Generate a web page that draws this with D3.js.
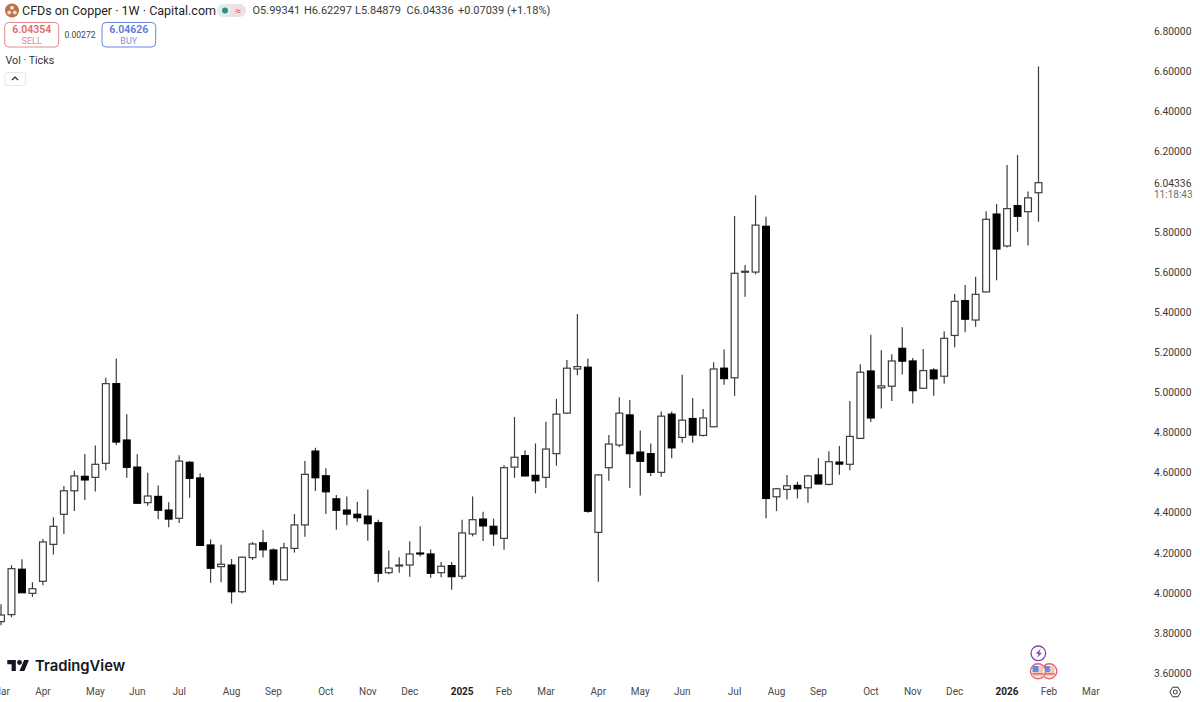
<!DOCTYPE html>
<html>
<head>
<meta charset="utf-8">
<script src="https://cdn.jsdelivr.net/npm/d3@7"></script>
<style>
  html, body { margin: 0; padding: 0; background: #fff; overflow: hidden; }
  svg { display: block; font-family: Roboto, Inter, sans-serif; }
</style>
</head>
<body>
<svg id="chart" width="1200" height="702"></svg>
<script>
// weekly candles, first one is the week of 2024-03-04
const firstWeek = '2024-03-04';

const opens = [3.856,3.891,4.117,3.997,4.057,4.241,4.391,4.508,4.580,4.575,
  4.645,5.042,4.761,4.626,4.449,4.480,4.412,4.371,4.650,4.572,
  4.238,4.130,4.138,4.005,4.175,4.249,4.213,4.064,4.221,4.338,
  4.706,4.583,4.468,4.412,4.391,4.382,4.349,4.100,4.135,4.138,
  4.198,4.193,4.100,4.135,4.082,4.293,4.367,4.331,4.271,4.626,
  4.683,4.585,4.575,4.693,4.895,5.115,5.124,4.301,4.623,4.736,
  4.886,4.701,4.693,4.600,4.890,4.774,4.868,4.784,4.827,5.119,
  5.071,5.597,5.598,5.826,4.478,4.515,4.535,4.523,4.587,4.540,
  4.651,4.640,4.769,5.105,5.021,5.029,5.218,5.155,5.019,5.110,
  5.079,5.282,5.456,5.359,5.499,5.887,5.728,5.929,5.899,5.99341];

const highs = [3.943,4.137,4.167,4.052,4.268,4.376,4.532,4.608,4.691,4.734,
  5.071,5.167,4.890,4.690,4.598,4.535,4.451,4.685,4.656,4.595,
  4.266,4.239,4.168,4.180,4.253,4.313,4.221,4.249,4.392,4.656,
  4.722,4.620,4.487,4.480,4.454,4.515,4.364,4.210,4.177,4.256,
  4.331,4.216,4.153,4.153,4.364,4.480,4.404,4.369,4.635,4.876,
  4.710,4.744,4.852,4.966,5.160,5.389,5.167,4.591,4.786,4.974,
  4.961,4.809,4.744,4.903,4.903,5.086,4.971,4.915,5.149,5.212,
  5.877,5.633,5.980,5.874,4.522,4.587,4.553,4.588,4.671,4.705,
  4.731,4.955,5.139,5.286,5.209,5.189,5.323,5.170,5.215,5.119,
  5.303,5.489,5.534,5.575,5.901,5.937,6.131,6.181,6.000,6.62297];

const lows = [3.838,3.878,4.000,3.979,4.037,4.190,4.293,4.407,4.462,4.505,
  4.610,4.736,4.573,4.446,4.434,4.366,4.326,4.347,4.473,4.236,
  4.049,4.052,3.946,3.997,4.163,4.175,4.040,4.064,4.200,4.279,
  4.507,4.392,4.314,4.336,4.354,4.259,4.052,4.092,4.100,4.080,
  4.180,4.075,4.077,4.015,4.067,4.281,4.258,4.233,4.214,4.573,
  4.582,4.495,4.522,4.633,4.891,5.084,4.399,4.055,4.558,4.726,
  4.522,4.485,4.582,4.578,4.670,4.747,4.747,4.779,4.827,5.037,
  4.981,5.475,5.587,4.371,4.407,4.465,4.470,4.449,4.542,4.535,
  4.588,4.610,4.769,4.851,4.918,4.955,5.087,4.943,5.019,4.982,
  5.041,5.223,5.298,5.325,5.499,5.557,5.721,5.799,5.731,5.84879];

const closes = [3.889,4.120,4.000,4.020,4.253,4.331,4.508,4.582,4.562,4.640,
  5.042,4.751,4.625,4.446,4.482,4.411,4.367,4.656,4.570,4.236,
  4.122,4.142,4.005,4.177,4.243,4.214,4.064,4.224,4.338,4.590,
  4.573,4.503,4.411,4.392,4.374,4.344,4.097,4.123,4.138,4.193,
  4.193,4.097,4.132,4.080,4.298,4.364,4.333,4.293,4.623,4.675,
  4.582,4.558,4.716,4.890,5.119,5.127,4.406,4.587,4.741,4.895,
  4.693,4.655,4.600,4.880,4.722,4.860,4.786,4.871,5.115,5.067,
  5.592,5.602,5.832,4.470,4.518,4.533,4.518,4.582,4.542,4.653,
  4.641,4.779,5.099,4.871,5.031,5.155,5.154,5.007,5.107,5.066,
  5.268,5.452,5.363,5.487,5.861,5.713,5.914,5.876,5.968,6.04336];

const priceTicks = [3.6,3.8,4.0,4.2,4.4,4.6,4.8,5.0,5.2,5.4,5.6,5.8,6.2,6.4,6.6,6.8];
const lastPrice = 6.04336;
const countdown = '11:18:43';

const dateTicks = ['2024-03-04','2024-04-01','2024-05-06','2024-06-03','2024-07-01','2024-08-05',
  '2024-09-02','2024-10-07','2024-11-04','2024-12-02','2025-01-06','2025-02-03','2025-03-03',
  '2025-04-07','2025-05-05','2025-06-02','2025-07-07','2025-08-04','2025-09-01','2025-10-06',
  '2025-11-03','2025-12-01','2026-01-05','2026-02-02','2026-03-02'];
const dateLabels = ['Mar','Apr','May','Jun','Jul','Aug','Sep','Oct','Nov','Dec','2025','Feb','Mar',
  'Apr','May','Jun','Jul','Aug','Sep','Oct','Nov','Dec','2026','Feb','Mar'];
const boldLabels = ['2025','2026'];

const ohlcParts = ['O5.99341','H6.62297','L5.84879','C6.04336','+0.07039 (+1.18%)'];

const svg = d3.select('#chart');
const parseDay = d3.utcParse('%Y-%m-%d');
const week = parseDay(firstWeek);

const candles = opens.map((o, i) => ({
  date: d3.utcDay.offset(week, i * 7), o, h: highs[i], l: lows[i], c: closes[i]
}));

const x = d3.scaleUtc()
  .domain([candles[0].date, candles[candles.length - 1].date])
  .range([1, 1038.5]);
const y = d3.scaleLinear().domain([3.6, 6.6]).range([673, 71]);
const bodyWidth = 8;

// candles
const g = svg.append('g').selectAll('.candle').data(candles).enter()
  .append('g').attr('class', 'candle');

g.append('line')
  .attr('x1', d => x(d.date)).attr('x2', d => x(d.date))
  .attr('y1', d => y(d.h)).attr('y2', d => y(d.l))
  .attr('stroke', '#3c3c3c').attr('stroke-width', 1.2);

g.append('rect')
  .attr('x', d => x(d.date) - bodyWidth / 2 + 0.6)
  .attr('width', bodyWidth - 1.2)
  .attr('y', d => y(Math.max(d.o, d.c)))
  .attr('height', d => Math.max(1, Math.abs(y(d.o) - y(d.c))))
  .attr('fill', d => d.c >= d.o ? '#fff' : '#000')
  .attr('stroke', d => d.c >= d.o ? '#3c3c3c' : '#000')
  .attr('stroke-width', 1.2);

// price axis
const yAxis = d3.axisRight(y)
  .tickValues(priceTicks)
  .tickSize(0).tickPadding(0).offset(0)
  .tickFormat(d3.format('.5f'));
svg.append('g').attr('transform', 'translate(1154,0.7)').call(yAxis)
  .call(a => a.select('.domain').remove())
  .call(a => a.selectAll('text').attr('fill', '#3a3a3a').style('font-size', '10.3px').style('font-family', 'Roboto, sans-serif'));

svg.append('text').attr('x', 1154).attr('y', 187.4)
  .attr('fill', '#3a3a3a').attr('font-size', 10.3).text(d3.format('.5f')(lastPrice));
svg.append('text').attr('x', 1154).attr('y', 198)
  .attr('fill', '#6f6f6f').attr('font-size', 10).text(countdown);

// time axis
const tickDates = dateTicks.map(parseDay);
const xAxis = d3.axisBottom(x)
  .tickValues(tickDates)
  .tickSize(0).tickPadding(0).offset(0)
  .tickFormat((d, i) => dateLabels[i]);
svg.append('g').attr('transform', 'translate(0,688)').call(xAxis)
  .call(a => a.select('.domain').remove())
  .call(a => a.selectAll('text')
    .style('font-size', '10px').style('font-family', 'Roboto, sans-serif')
    .style('font-weight', (d, i) => boldLabels.includes(dateLabels[i]) ? 700 : 400)
    .attr('fill', (d, i) => boldLabels.includes(dateLabels[i]) ? '#222' : '#4a4a4a'));

// header
const head = svg.append('g');
head.append('circle').attr('cx', 12).attr('cy', 10.5).attr('r', 7).attr('fill', '#b8714a');
[[12, 7.8], [9.2, 12.6], [14.8, 12.6]].forEach(p => {
  head.append('circle').attr('cx', p[0]).attr('cy', p[1]).attr('r', 2).attr('fill', '#f4d9c6');
});
head.append('text').attr('x', 22).attr('y', 15).attr('font-size', 12.5).attr('fill', '#1f1f1f')
  .text('CFDs on Copper · 1W · Capital.com');

head.append('rect').attr('x', 217).attr('y', 4).attr('width', 29).attr('height', 13).attr('rx', 6.5).attr('fill', '#f0dfe2');
head.append('rect').attr('x', 217).attr('y', 4).attr('width', 14).attr('height', 13).attr('rx', 6.5).attr('fill', '#dcefe9');
head.append('circle').attr('cx', 225).attr('cy', 10.5).attr('r', 3).attr('fill', '#2e9180');
head.append('text').attr('x', 238).attr('y', 14).attr('text-anchor', 'middle').attr('font-size', 10).attr('fill', '#d8506a').text('≈');

const ohlcX = [252.5, 304, 355, 406.5, 458];
ohlcParts.forEach((t, i) => {
  head.append('text').attr('x', ohlcX[i]).attr('y', 14).attr('font-size', 11).attr('fill', '#3a3a3a').text(t);
});

// sell / buy buttons
head.append('rect').attr('x', 4.7).attr('y', 22.5).attr('width', 54).attr('height', 24.5).attr('rx', 4)
  .attr('fill', '#fff').attr('stroke', '#e08a8a');
head.append('text').attr('x', 31.7).attr('y', 33).attr('text-anchor', 'middle').attr('font-size', 10.5).attr('font-weight', 600).attr('fill', '#db6b6b').text('6.04354');
head.append('text').attr('x', 31.7).attr('y', 43.5).attr('text-anchor', 'middle').attr('font-size', 9).attr('fill', '#e08a8a').text('SELL');
head.append('text').attr('x', 80).attr('y', 38).attr('text-anchor', 'middle').attr('font-size', 8.5).attr('fill', '#444').text('0.00272');
head.append('rect').attr('x', 102).attr('y', 22.5).attr('width', 53.7).attr('height', 24.5).attr('rx', 4)
  .attr('fill', '#fff').attr('stroke', '#6a85e0');
head.append('text').attr('x', 128.8).attr('y', 33).attr('text-anchor', 'middle').attr('font-size', 10.5).attr('font-weight', 600).attr('fill', '#5a78dc').text('6.04626');
head.append('text').attr('x', 128.8).attr('y', 43.5).attr('text-anchor', 'middle').attr('font-size', 9).attr('fill', '#7f96e4').text('BUY');

head.append('text').attr('x', 5.5).attr('y', 63.5).attr('font-size', 10.7).attr('fill', '#333').text('Vol · Ticks');
head.append('rect').attr('x', 5).attr('y', 72.5).attr('width', 20.5).attr('height', 13).attr('rx', 2)
  .attr('fill', '#fff').attr('stroke', '#e6e6e6');
head.append('path').attr('d', 'M12 80l3-3 3 3').attr('fill', 'none').attr('stroke', '#222').attr('stroke-width', 1.1);

// tradingview logo
const logo = svg.append('g').attr('transform', 'translate(7.3,660) scale(0.61)').attr('fill', '#131722');
logo.append('path').attr('d', 'M14 18H7V7H0V0h14v18zM28 18h-8l7.5-18h8L28 18z');
logo.append('circle').attr('cx', 20).attr('cy', 4).attr('r', 4);
svg.append('text').attr('x', 35).attr('y', 671).attr('font-family', 'Inter, sans-serif').attr('font-size', 14.8).attr('font-weight', 600)
  .attr('fill', '#131722').text('TradingView');

// event markers
const marks = svg.append('g');
marks.append('circle').attr('cx', 1038.3).attr('cy', 653.3).attr('r', 7.3).attr('fill', '#fff').attr('stroke', '#8a3fb0').attr('stroke-width', 1.3);
marks.append('path').attr('d', 'M1040.8 648.6l-5 5.2h2.8l-1.6 4.1 5-5.2h-2.8z').attr('fill', '#8a3fb0');
[1049.3, 1038].forEach(cx => {
  marks.append('circle').attr('cx', cx).attr('cy', 671.3).attr('r', 7.5).attr('fill', '#fff').attr('stroke', '#e2625f').attr('stroke-width', 1.4);
  marks.append('rect').attr('x', cx - 5.5).attr('y', 666).attr('width', 11).attr('height', 10.5).attr('fill', '#f6c7c0');
  marks.append('rect').attr('x', cx - 5.5).attr('y', 666).attr('width', 6).attr('height', 6).attr('fill', '#5b8fe0');
  marks.append('rect').attr('x', cx - 5.5).attr('y', 673.2).attr('width', 11).attr('height', 1.3).attr('fill', '#e2625f');
});

// settings icon
svg.append('path').attr('d', 'M1169.9 692l2.7-4.8h5.4l2.7 4.8-2.7 4.8h-5.4z').attr('fill', 'none').attr('stroke', '#333').attr('stroke-width', 1);
svg.append('circle').attr('cx', 1175.3).attr('cy', 692).attr('r', 2).attr('fill', 'none').attr('stroke', '#333').attr('stroke-width', 1);
</script>
</body>
</html>
